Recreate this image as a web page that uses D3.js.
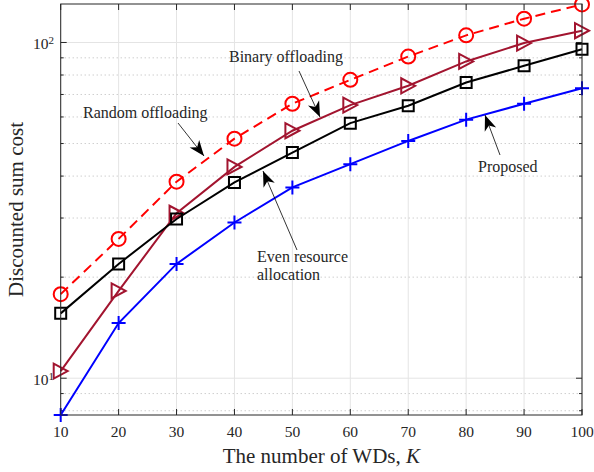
<!DOCTYPE html>
<html>
<head>
<meta charset="utf-8">
<title>Discounted sum cost vs number of WDs</title>
<script src="https://cdn.jsdelivr.net/npm/d3@7/dist/d3.min.js"></script>
<style>
body { margin: 0; background: #fff; }
svg text { font-family: "Liberation Serif", "Times New Roman", serif; fill: #262626; }
.grid-major { stroke: #e4e4e4; stroke-width: 1; }
.grid-minor { stroke: #b8b8b8; stroke-width: 1; stroke-dasharray: 1,3; }
.frame { fill: none; stroke: #262626; stroke-width: 1; }
.tick { stroke: #262626; stroke-width: 1; }
.curve { fill: none; stroke-width: 2; }
.marker { fill: none; stroke-width: 2; }
.note-line { stroke: #000; stroke-width: 0.8; }
</style>
</head>
<body>
<script>
// x values (number of WDs) and the four curves
var K = [10, 20, 30, 40, 50, 60, 70, 80, 90, 100];
var proposed = [7.77, 14.6, 21.9, 29.1, 37.0, 43.4, 50.9, 58.9, 65.7, 73.1];
var evenAlloc = [15.6, 21.9, 29.8, 38.3, 47.0, 57.5, 64.8, 76.0, 85.2, 95.5];
var binaryOff = [10.5, 18.2, 31.0, 42.6, 54.6, 65.1, 74.3, 87.8, 99.6, 108.4];
var randomOff = [17.8, 26.0, 38.5, 51.7, 65.7, 77.4, 90.8, 105, 117.7, 129.8];

var xTicks = [10, 20, 30, 40, 50, 60, 70, 80, 90, 100];
var yMajor = [10, 100];
var yMinor = [8, 9, 20, 30, 40, 50, 60, 70, 80, 90];
var yDomain = [7.77, 130.2];

(function() {
    var width = 594, height = 472;
    var left = 60.7, right = 582, top = 4, bottom = 415;

    var x = d3.scaleLinear().domain([10, 100]).range([left, right]);
    var y = d3.scaleLog().domain(yDomain).range([bottom, top]);

    var svg = d3.select('body').append('svg')
        .attr('width', width)
        .attr('height', height);

    svg.append('rect').attr('width', width).attr('height', height).attr('fill', '#fff');

    // grid
    svg.selectAll('.gx').data(xTicks).enter().append('line')
        .attr('class', 'grid-major')
        .attr('x1', function(d) { return x(d); }).attr('x2', function(d) { return x(d); })
        .attr('y1', top).attr('y2', bottom);
    svg.selectAll('.gym').data(yMinor).enter().append('line')
        .attr('class', 'grid-minor')
        .attr('x1', left).attr('x2', right)
        .attr('y1', function(d) { return y(d); }).attr('y2', function(d) { return y(d); });
    svg.selectAll('.gyM').data(yMajor).enter().append('line')
        .attr('class', 'grid-major')
        .attr('x1', left).attr('x2', right)
        .attr('y1', function(d) { return y(d); }).attr('y2', function(d) { return y(d); });

    // ticks, inward on all four sides
    xTicks.forEach(function(d) {
        svg.append('line').attr('class', 'tick')
            .attr('x1', x(d)).attr('x2', x(d)).attr('y1', bottom).attr('y2', bottom - 6);
        svg.append('line').attr('class', 'tick')
            .attr('x1', x(d)).attr('x2', x(d)).attr('y1', top).attr('y2', top + 6);
    });
    yMajor.concat(yMinor).forEach(function(d) {
        var len = yMajor.indexOf(d) >= 0 ? 6 : 3;
        svg.append('line').attr('class', 'tick')
            .attr('x1', left).attr('x2', left + len).attr('y1', y(d)).attr('y2', y(d));
        svg.append('line').attr('class', 'tick')
            .attr('x1', right).attr('x2', right - len).attr('y1', y(d)).attr('y2', y(d));
    });

    // tick labels
    svg.selectAll('.xl').data(xTicks).enter().append('text')
        .attr('x', function(d) { return x(d); })
        .attr('y', 437)
        .attr('text-anchor', 'middle')
        .attr('font-size', 15.5)
        .text(function(d) { return d; });

    yMajor.forEach(function(d) {
        var t = svg.append('text')
            .attr('x', 54)
            .attr('y', y(d) + 7)
            .attr('text-anchor', 'end')
            .attr('font-size', 15.5);
        t.append('tspan').text('10');
        t.append('tspan').attr('font-size', 11).attr('dy', -5).text(Math.round(Math.log10(d)));
    });

    // axis titles
    var xl = svg.append('text')
        .attr('x', (left + right) / 2)
        .attr('y', 463)
        .attr('text-anchor', 'middle')
        .attr('font-size', 21);
    xl.append('tspan').text('The number of WDs, ');
    xl.append('tspan').attr('font-style', 'italic').text('K');

    svg.append('text')
        .attr('transform', 'translate(23,' + ((top + bottom) / 2) + ') rotate(-90)')
        .attr('text-anchor', 'middle')
        .attr('font-size', 21)
        .text('Discounted sum cost');

    // curves
    var series = [
        { values: randomOff, color: '#ff0000', dash: '10,6', mark: 'circle' },
        { values: binaryOff, color: '#a2142f', dash: null, mark: 'triangle' },
        { values: evenAlloc, color: '#000000', dash: null, mark: 'square' },
        { values: proposed, color: '#0000ff', dash: null, mark: 'plus' }
    ];

    var line = d3.line()
        .x(function(d) { return x(d.k); })
        .y(function(d) { return y(d.v); });

    var markPath = function(type) {
        if (type === 'square') return 'M-5.5,-5.5H5.5V5.5H-5.5Z';
        if (type === 'triangle') return 'M7,0L-7,-7.5L-7,7.5Z';
        if (type === 'plus') return 'M-7,0H7M0,-7V7';
        return null;
    };

    var plot = svg.append('g');
    series.forEach(function(s) {
        var pts = K.map(function(k, i) { return { k: k, v: s.values[i] }; });
        plot.append('path')
            .datum(pts)
            .attr('class', 'curve')
            .attr('stroke', s.color)
            .attr('stroke-dasharray', s.dash)
            .attr('d', line);
        pts.forEach(function(p) {
            if (s.mark === 'circle') {
                plot.append('circle').attr('class', 'marker')
                    .attr('cx', x(p.k)).attr('cy', y(p.v)).attr('r', 7)
                    .attr('stroke', s.color);
            } else {
                plot.append('path').attr('class', 'marker')
                    .attr('d', markPath(s.mark))
                    .attr('transform', 'translate(' + x(p.k) + ',' + y(p.v) + ')')
                    .attr('stroke', s.color);
            }
        });
    });

    // frame
    svg.append('rect').attr('class', 'frame')
        .attr('x', left).attr('y', top)
        .attr('width', right - left).attr('height', bottom - top);

    // annotations with arrows
    svg.append('defs').append('marker')
        .attr('id', 'head')
        .attr('markerUnits', 'userSpaceOnUse')
        .attr('markerWidth', 20).attr('markerHeight', 20)
        .attr('refX', 0).attr('refY', 0)
        .attr('viewBox', '-16 -8 18 16')
        .attr('orient', 'auto')
        .append('path')
        .attr('d', 'M0,0L-14,-5.5L-10,0L-14,5.5Z')
        .attr('fill', '#000');

    var notes = [
        { lines: ['Random offloading'], tx: 83, ty: 118, from: [178, 123], to: [204, 156] },
        { lines: ['Binary offloading'], tx: 229, ty: 62, from: [299, 71], to: [320, 117] },
        { lines: ['Even resource', 'allocation'], tx: 257, ty: 262, from: [297, 250], to: [263, 171] },
        { lines: ['Proposed'], tx: 478, ty: 172, from: [500, 155], to: [485, 115] }
    ];
    notes.forEach(function(n) {
        svg.append('line').attr('class', 'note-line')
            .attr('x1', n.from[0]).attr('y1', n.from[1])
            .attr('x2', n.to[0]).attr('y2', n.to[1])
            .attr('marker-end', 'url(#head)');
        n.lines.forEach(function(t, i) {
            svg.append('text')
                .attr('x', n.tx).attr('y', n.ty + i * 18)
                .attr('font-size', 16)
                .text(t);
        });
    });
}).call(this);
</script>
</body>
</html>
